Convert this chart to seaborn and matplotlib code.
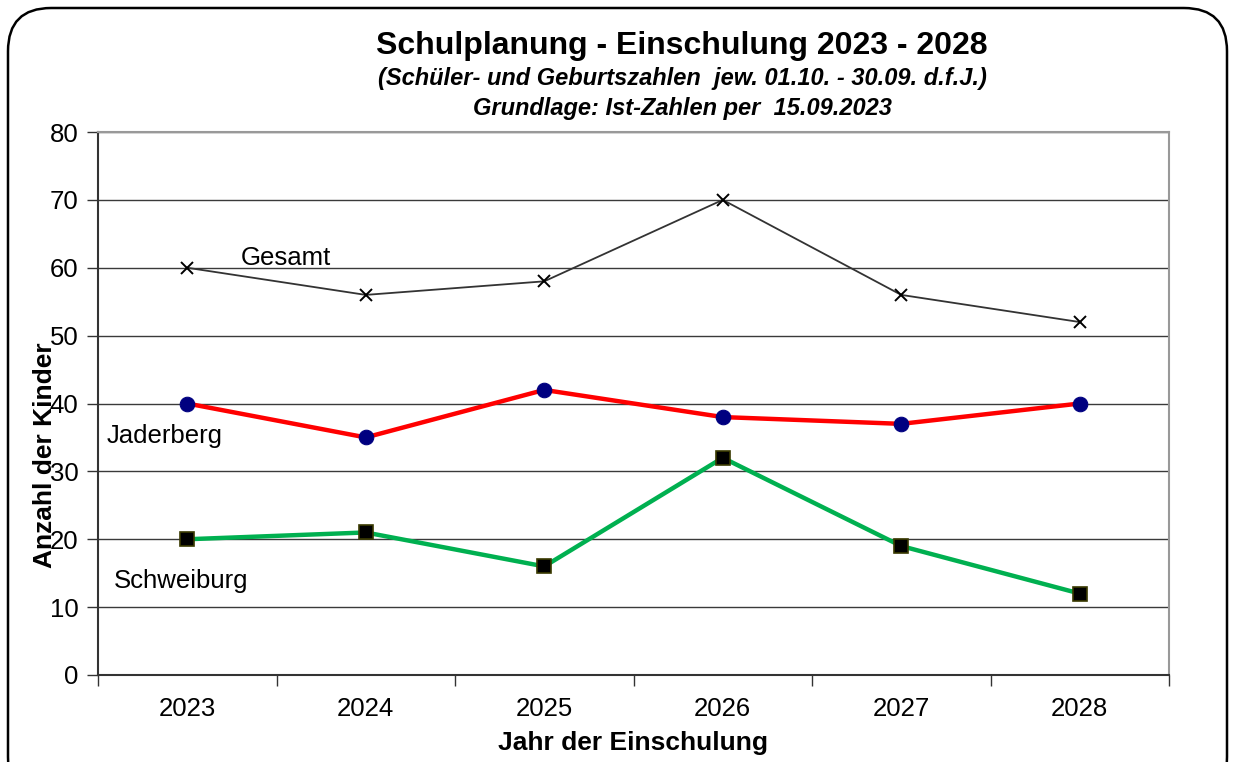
import matplotlib
matplotlib.use("Agg")
import matplotlib.pyplot as plt
import seaborn as sns
import pandas as pd
from matplotlib.patches import FancyBboxPatch

years = ["2023", "2024", "2025", "2026", "2027", "2028"]
gesamt = [60, 56, 58, 70, 56, 52]
jaderberg = [40, 35, 42, 38, 37, 40]
schweiburg = [20, 21, 16, 32, 19, 12]
y_ticks = [0, 10, 20, 30, 40, 50, 60, 70, 80]

sns.set_theme(style="white")
plt.rcParams['font.family'] = ['Liberation Sans', 'DejaVu Sans']
plt.rcParams['text.color'] = 'black'
plt.rcParams['xtick.color'] = 'black'
plt.rcParams['ytick.color'] = 'black'
plt.rcParams['xtick.labelcolor'] = 'black'
plt.rcParams['ytick.labelcolor'] = 'black'

fig = plt.figure(figsize=(12.33, 7.62), dpi=100)
ax = fig.add_axes([98/1233, 1-675/762, (1169-98)/1233, (675-132)/762])

pos = list(range(len(years)))
df = pd.DataFrame({"pos": pos, "Gesamt": gesamt, "Jaderberg": jaderberg, "Schweiburg": schweiburg})

sns.lineplot(data=df, x="pos", y="Gesamt", ax=ax, color="#333333", lw=1.3,
             marker="x", markersize=9, markeredgewidth=1.4, markeredgecolor="black", zorder=5)
sns.lineplot(data=df, x="pos", y="Jaderberg", ax=ax, color="#FF0000", lw=3.2,
             marker="o", markersize=10.5, markerfacecolor="#000080", markeredgecolor="#000080", zorder=5)
sns.lineplot(data=df, x="pos", y="Schweiburg", ax=ax, color="#00B050", lw=3.2,
             marker="s", markersize=9.5, markerfacecolor="black", markeredgecolor="#3a3a00",
             markeredgewidth=1.2, zorder=5)

ax.set_xlim(-0.5, len(years) - 0.5)
ax.set_ylim(0, 80)
ax.set_yticks(y_ticks)
ax.yaxis.grid(True, color="#3a3a3a", lw=1.0)
ax.set_axisbelow(True)

ax.set_xticks([i - 0.5 for i in range(len(years) + 1)])
ax.set_xticklabels([])
ax.set_xticks(pos, minor=True)
ax.set_xticklabels(years, minor=True)
ax.tick_params(axis="x", which="major", direction="out", length=8, width=1, color="#333333", bottom=True)
ax.tick_params(axis="x", which="minor", length=0, pad=16, labelsize=18.5)
ax.tick_params(axis="y", direction="out", length=8, width=1, color="#333333", left=True, labelsize=18.5, pad=6)

for s in ["left", "bottom"]:
    ax.spines[s].set_color("#333333")
    ax.spines[s].set_linewidth(1.5)
for s in ["top", "right"]:
    ax.spines[s].set_color("#999999")
    ax.spines[s].set_linewidth(1.5)
ax.set_xlabel("")
ax.set_ylabel("")

ax.text(0.3, 61.5, "Gesamt", fontsize=18.5, va="center", ha="left")
ax.text(-0.45, 35.2, "Jaderberg", fontsize=18.5, va="center", ha="left")
ax.text(-0.41, 13.8, "Schweiburg", fontsize=18.5, va="center", ha="left")

fig.text(682/1233, 1-46/762, "Schulplanung - Einschulung 2023 - 2028", fontsize=23,
         fontweight="bold", ha="center", va="center")
fig.text(682/1233, 1-79/762, "(Schüler- und Geburtszahlen  jew. 01.10. - 30.09. d.f.J.)", fontsize=17,
         fontweight="bold", fontstyle="italic", ha="center", va="center")
fig.text(682/1233, 1-108/762, "Grundlage: Ist-Zahlen per  15.09.2023", fontsize=17,
         fontweight="bold", fontstyle="italic", ha="center", va="center")
fig.text(633/1233, 1-743/762, "Jahr der Einschulung", fontsize=19, fontweight="bold",
         ha="center", va="center")
fig.text(45/1233, 1-455/762, "Anzahl der Kinder", fontsize=19, fontweight="bold",
         ha="center", va="center", rotation=90)

box = FancyBboxPatch((8/1233, -0.05), (1227-8)/1233, 0.05 + 1 - 8/762,
                     boxstyle="round,pad=0,rounding_size=0.035", transform=fig.transFigure,
                     fill=False, edgecolor="black", lw=1.8, mutation_aspect=1233/762)
fig.patches.append(box)

fig.savefig("out.png", dpi=100)
